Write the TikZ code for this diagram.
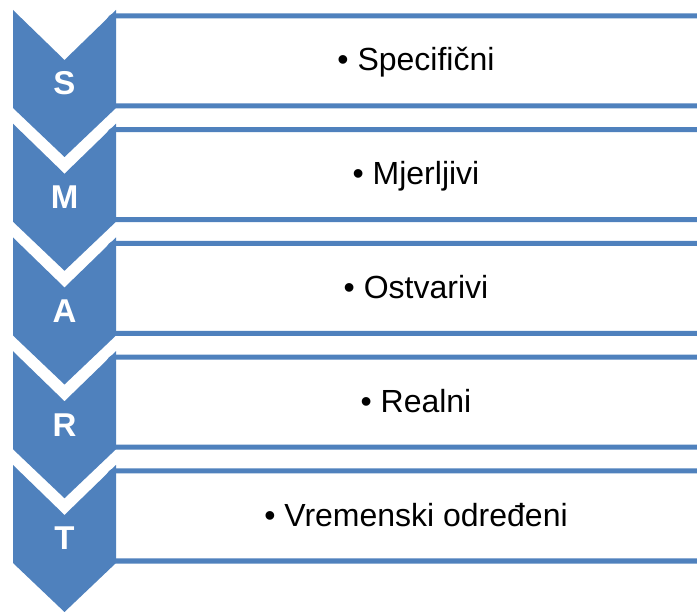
\documentclass[tikz,border=0pt]{standalone}
\usepackage{fontspec}
\setmainfont{Liberation Sans}
\definecolor{smartblue}{HTML}{4F81BD}
\tikzset{
  goalbox/.style={draw=smartblue, line width=5pt, rounded corners=6pt, fill=white,
    minimum width=614pt, minimum height=90pt, inner sep=0pt,
    text height=24pt, text depth=4pt, font=\fontsize{32}{38}\selectfont},
  chevron/.style={fill=smartblue},
  letter/.style={text=white, anchor=base, inner sep=0pt,
    font=\fontsize{33}{38}\selectfont\bfseries}
}
\begin{document}
\begin{tikzpicture}[x=1pt,y=-1pt]
\useasboundingbox (0,0) rectangle (697,612);
\clip (0,0) rectangle (697,612);
\node[goalbox] (g1) at (416,61) {\textbullet\ Specifični};
\node[goalbox] (g2) at (416,174.75) {\textbullet\ Mjerljivi};
\node[goalbox] (g3) at (416,288.5) {\textbullet\ Ostvarivi};
\node[goalbox] (g4) at (416,402.25) {\textbullet\ Realni};
\node[goalbox] (g5) at (416,516) {\textbullet\ Vremenski određeni};
\fill[chevron] (13,10) -- ++(51.5,50) -- ++(51.5,-50) -- ++(0,98) -- ++(-51.5,49) -- ++(-51.5,-49) -- cycle;
\fill[chevron] (13,123.75) -- ++(51.5,50) -- ++(51.5,-50) -- ++(0,98) -- ++(-51.5,49) -- ++(-51.5,-49) -- cycle;
\fill[chevron] (13,237.5) -- ++(51.5,50) -- ++(51.5,-50) -- ++(0,98) -- ++(-51.5,49) -- ++(-51.5,-49) -- cycle;
\fill[chevron] (13,351.25) -- ++(51.5,50) -- ++(51.5,-50) -- ++(0,98) -- ++(-51.5,49) -- ++(-51.5,-49) -- cycle;
\fill[chevron] (13,465) -- ++(51.5,50) -- ++(51.5,-50) -- ++(0,98) -- ++(-51.5,49) -- ++(-51.5,-49) -- cycle;
\node[letter] (s) at (64.5,95) {S};
\node[letter] (m) at (64.5,208.75) {M};
\node[letter] (a) at (64.5,322.5) {A};
\node[letter] (r) at (64.5,436.25) {R};
\node[letter] (t) at (64.5,550) {T};
\end{tikzpicture}
\end{document}
